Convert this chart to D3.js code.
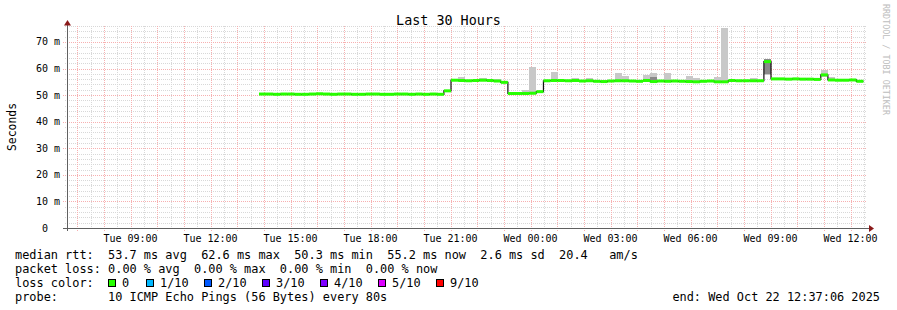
<!DOCTYPE html>
<html><head><meta charset="utf-8">
<script src="https://cdn.jsdelivr.net/npm/d3@7"></script>
<style>
body{margin:0;background:#fff}
text{font-family:"DejaVu Sans Mono",monospace;white-space:pre}
</style>
</head><body>
<svg id="c" width="897" height="310"></svg>
<script>
// ---------- data ----------
const title = "Last 30 Hours";
const yLabel = "Seconds";
const credit = "RRDTOOL / TOBI OETIKER";
const rangeStart = new Date(2025, 9, 21, 6, 37, 6);
const rangeEnd = new Date(2025, 9, 22, 12, 37, 6);
const firstBin = new Date(2025, 9, 21, 13, 49, 6);
const stepMinutes = 16;

// median rtt per 16-minute bin (ms), starting at firstBin
const medianMs = [
  50.4, 50.4, 50.3, 50.4, 50.4, 50.3, 50.3, 50.4, 50.5, 50.4, 50.3, 50.4, 50.4,
  50.3, 50.3, 50.4, 50.4, 50.3, 50.3, 50.4, 50.4, 50.3, 50.4, 50.3, 50.4, 50.3,
  51.6,
  55.6, 55.5, 55.4, 55.5, 55.6, 55.5, 55.3,
  54.8,
  50.6, 50.6, 50.6, 50.7,
  51.3,
  55.4, 55.5, 55.5, 55.4, 55.5, 55.3, 55.4, 55.2, 55.1, 55.3, 55.4, 55.4, 55.3,
  55.2, 55.5, 55.1, 55.3, 55.2, 55.3, 55.2, 55.1, 55.0, 55.2, 55.3, 55.0, 55.0,
  55.5, 55.4, 55.4, 55.4, 55.4,
  62.6,
  56.1, 56.1, 56.0, 56.1, 56.0, 56.0, 55.9,
  57.6,
  55.7, 55.6, 55.6, 55.7,
  55.2
];

// smoke (spread of the pings) for bins where it shows above the median line
const smokeBins = [1, 28, 31, 33, 37, 38, 41, 44, 46, 50, 51, 54, 55, 57, 60, 61, 64, 65, 69, 71, 79, 80];
const smokeLow  = [50.2, 55.2, 55.3, 55.0, 50.3, 50.4, 55.2, 55.1, 55.1, 55.0, 55.0, 55.0, 54.8, 55.0, 54.9, 54.9, 54.9, 54.9, 55.0, 57.6, 56.8, 55.4];
const smokeHigh = [50.6, 56.8, 56.4, 56.1, 52.0, 60.6, 58.7, 56.3, 56.3, 58.3, 57.2, 57.6, 58.3, 58.3, 57.2, 56.3, 57.0, 75.3, 56.3, 63.7, 59.5, 56.7];
const darkBins = [55, 71];
const darkLow  = [55.6, 57.8];
const darkHigh = [56.8, 63.4];

const yTickValues = [0, 10, 20, 30, 40, 50, 60, 70];
const yTickLabels = ["0  ", "10 m", "20 m", "30 m", "40 m", "50 m", "60 m", "70 m"];

const legendLines = [
  "median rtt:  53.7 ms avg  62.6 ms max  50.3 ms min  55.2 ms now  2.6 ms sd  20.4   am/s",
  "packet loss: 0.00 % avg  0.00 % max  0.00 % min  0.00 % now",
  "loss color:",
  "probe:       10 ICMP Echo Pings (56 Bytes) every 80s"
];
const lossLabels = ["0", "1/10", "2/10", "3/10", "4/10", "5/10", "9/10"];
const lossColors = ["#26ff00", "#00b8ff", "#0059ff", "#5e00ff", "#7e00ff", "#dd00ff", "#ff0000"];
const lossBoxX = [108, 146, 204, 262, 320, 378, 436];
const lossTextX = [122, 160, 218, 276, 334, 392, 450];
const endText = "end: Wed Oct 22 12:37:06 2025";

// ---------- drawing ----------
const svg = d3.select("#c");
const L = 67, R = 867, B = 228, T = 26;
const x = d3.scaleTime().domain([rangeStart, rangeEnd]).range([L, R]);
const y = d3.scaleLinear().domain([0, 76]).range([B, T]);
const binStart = i => d3.timeMinute.offset(firstBin, i * stepMinutes);
const binEnd = i => d3.timeMinute.offset(firstBin, (i + 1) * stepMinutes);

const grid = svg.append("g").attr("shape-rendering", "crispEdges");
// minor grid
d3.timeMinute.every(30).range(rangeStart, rangeEnd).forEach(t => {
  const xx = Math.round(x(t)) + 0.5;
  grid.append("line").attr("x1", xx).attr("x2", xx).attr("y1", T).attr("y2", B + 2)
    .attr("stroke", "#d8d8d8").attr("stroke-dasharray", "1,1");
});
y.ticks(38).forEach(v => {
  const yy = Math.round(y(v)) + 0.5;
  grid.append("line").attr("x1", L - 2).attr("x2", R).attr("y1", yy).attr("y2", yy)
    .attr("stroke", "#d8d8d8").attr("stroke-dasharray", "1,1");
});
// major grid
d3.timeHour.every(1).range(rangeStart, rangeEnd).forEach(t => {
  const xx = Math.round(x(t)) + 0.5;
  grid.append("line").attr("x1", xx).attr("x2", xx).attr("y1", T).attr("y2", B + 3)
    .attr("stroke", "#f7b0b0").attr("stroke-dasharray", "1,1");
});
yTickValues.forEach(v => {
  const yy = Math.round(y(v)) + 0.5;
  grid.append("line").attr("x1", L - 4).attr("x2", R).attr("y1", yy).attr("y2", yy)
    .attr("stroke", "#f7b0b0").attr("stroke-dasharray", "1,1");
});

// smoke
const smoke = svg.append("g").attr("shape-rendering", "crispEdges");
smokeBins.forEach((b, j) => {
  smoke.append("rect").attr("x", x(binStart(b))).attr("width", x(binEnd(b)) - x(binStart(b)))
    .attr("y", y(smokeHigh[j])).attr("height", y(smokeLow[j]) - y(smokeHigh[j]))
    .attr("fill", "#c8c8c8");
});
darkBins.forEach((b, j) => {
  smoke.append("rect").attr("x", x(binStart(b))).attr("width", x(binEnd(b)) - x(binStart(b)))
    .attr("y", y(darkHigh[j])).attr("height", y(darkLow[j]) - y(darkHigh[j]))
    .attr("fill", "#8a8a8a");
});

// median: thin dark step line + thick green per-bin segments
const pts = medianMs.map((m, i) => [binStart(i), m]);
pts.push([binEnd(medianMs.length - 1), medianMs[medianMs.length - 1]]);
svg.append("path")
  .attr("d", d3.line().x(d => x(d[0])).y(d => y(d[1])).curve(d3.curveStepAfter)(pts))
  .attr("fill", "none").attr("stroke", "#111").attr("stroke-width", 1.2);
svg.append("g").selectAll("rect").data(medianMs).join("rect")
  .attr("x", (d, i) => x(binStart(i))).attr("width", (d, i) => x(binEnd(i)) - x(binStart(i)))
  .attr("y", d => y(d) - 1.5).attr("height", 3).attr("fill", lossColors[0]);

// axes
svg.append("line").attr("x1", L + 0.5).attr("x2", L + 0.5).attr("y1", B + 3).attr("y2", 23)
  .attr("stroke", "#606060").attr("stroke-width", 1);
svg.append("line").attr("x1", L - 4).attr("x2", 870).attr("y1", B + 0.5).attr("y2", B + 0.5)
  .attr("stroke", "#606060").attr("stroke-width", 1);
svg.append("path").attr("d", "M64,25.5 L71,25.5 L67.5,20 Z").attr("fill", "#8b1a1a");
svg.append("path").attr("d", "M869,225 L869,232 L874,228.5 Z").attr("fill", "#8b1a1a");

// tick labels
svg.append("g").selectAll("text").data(yTickValues).join("text")
  .attr("x", 60).attr("y", d => y(d) + 3.5).attr("text-anchor", "end")
  .attr("font-size", "10px").attr("fill", "#000").text((d, i) => yTickLabels[i]);
svg.append("g").selectAll("text").data(d3.timeHour.every(3).range(rangeStart, rangeEnd)).join("text")
  .attr("x", d => x(d)).attr("y", 242).attr("text-anchor", "middle")
  .attr("font-size", "10px").attr("fill", "#000").text(d3.timeFormat("%a %H:%M"));

// title, labels
svg.append("text").attr("x", 448.5).attr("y", 24.5).attr("text-anchor", "middle")
  .attr("font-size", "13.4px").attr("fill", "#000").text(title);
svg.append("text").attr("transform", "translate(15.5,127) rotate(-90)").attr("text-anchor", "middle")
  .attr("font-size", "11.4px").attr("fill", "#000").text(yLabel);
svg.append("text").attr("transform", "translate(883,4) rotate(90)").attr("text-anchor", "start")
  .attr("font-size", "8.4px").attr("fill", "#bdbdbd").text(credit);

// legend
const legendY = [259, 272.5, 287, 301];
legendLines.forEach((s, i) => {
  svg.append("text").attr("x", 15).attr("y", legendY[i]).attr("font-size", "11.9px")
    .attr("fill", "#000").text(s);
});
lossLabels.forEach((s, i) => {
  svg.append("rect").attr("x", lossBoxX[i] + 0.5).attr("y", 279.5).attr("width", 7).attr("height", 7)
    .attr("fill", lossColors[i]).attr("stroke", "#000").attr("stroke-width", 1);
  svg.append("text").attr("x", lossTextX[i]).attr("y", legendY[2]).attr("font-size", "11.9px")
    .attr("fill", "#000").text(s);
});
svg.append("text").attr("x", 880).attr("y", legendY[3]).attr("text-anchor", "end")
  .attr("font-size", "11.9px").attr("fill", "#000").text(endText);
</script>
</body></html>
